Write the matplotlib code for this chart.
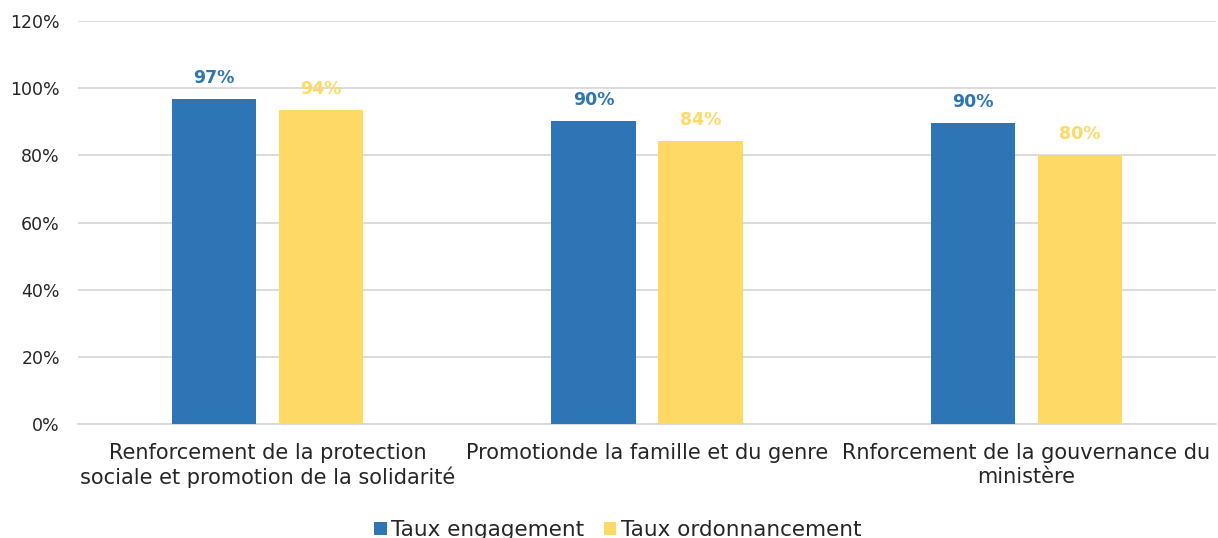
import numpy as np
import matplotlib.pyplot as plt
from matplotlib.ticker import FuncFormatter

categories = ["Renforcement de la protection\nsociale et promotion de la solidarité",
              "Promotionde la famille et du genre",
              "Rnforcement de la gouvernance du\nministère"]
engagement = [96.7, 90.3, 89.7]
ordonnancement = [93.6, 84.3, 80.2]

blue = "#2E75B6"
yellow = "#FFD966"
txt = "#262626"

plt.rcParams['font.family'] = ['DejaVu Sans']

fig = plt.figure(figsize=(12.18, 5.38), dpi=100)
ax = fig.add_axes([78 / 1218, 1 - 424 / 538, 1138 / 1218, 403 / 538])

x = np.arange(len(categories))
w = 0.222
b1 = ax.bar(x - 0.141, engagement, w, color=blue, label="Taux engagement", zorder=3)
b2 = ax.bar(x + 0.141, ordonnancement, w, color=yellow, label="Taux ordonnancement", zorder=3)

for bars, vals, c in [(b1, engagement, blue), (b2, ordonnancement, yellow)]:
    for bar, v in zip(bars, vals):
        ax.text(bar.get_x() + bar.get_width() / 2, v + 3.5, f"{v:.0f}%",
                ha="center", va="bottom", color=c, fontsize=12.5, fontweight="bold")

ax.set_xlim(-0.5, 2.5)
ax.set_ylim(0, 120)
ax.set_yticks(range(0, 121, 20))
ax.yaxis.set_major_formatter(FuncFormatter(lambda v, p: f"{v:.0f}%"))
ax.set_xticks(x)
ax.set_xticklabels(categories, fontsize=15, color=txt, linespacing=1.2)
ax.tick_params(axis="y", labelsize=12.5, colors=txt, length=0, pad=13)
ax.tick_params(axis="x", length=0, pad=14)
ax.grid(axis="y", color="#D9D9D9", linewidth=1.3, zorder=0)
for s in ["top", "right", "left"]:
    ax.spines[s].set_visible(False)
ax.spines["bottom"].set_color("#D9D9D9")
ax.spines["bottom"].set_linewidth(1.3)

fig.legend(loc="lower center", ncol=2, frameon=False, fontsize=15.5,
           bbox_to_anchor=(0.507, -0.04), handlelength=0.6, handleheight=0.6,
           handletextpad=0.2, columnspacing=0.9, labelcolor=txt)

fig.savefig("out.png", dpi=100)
